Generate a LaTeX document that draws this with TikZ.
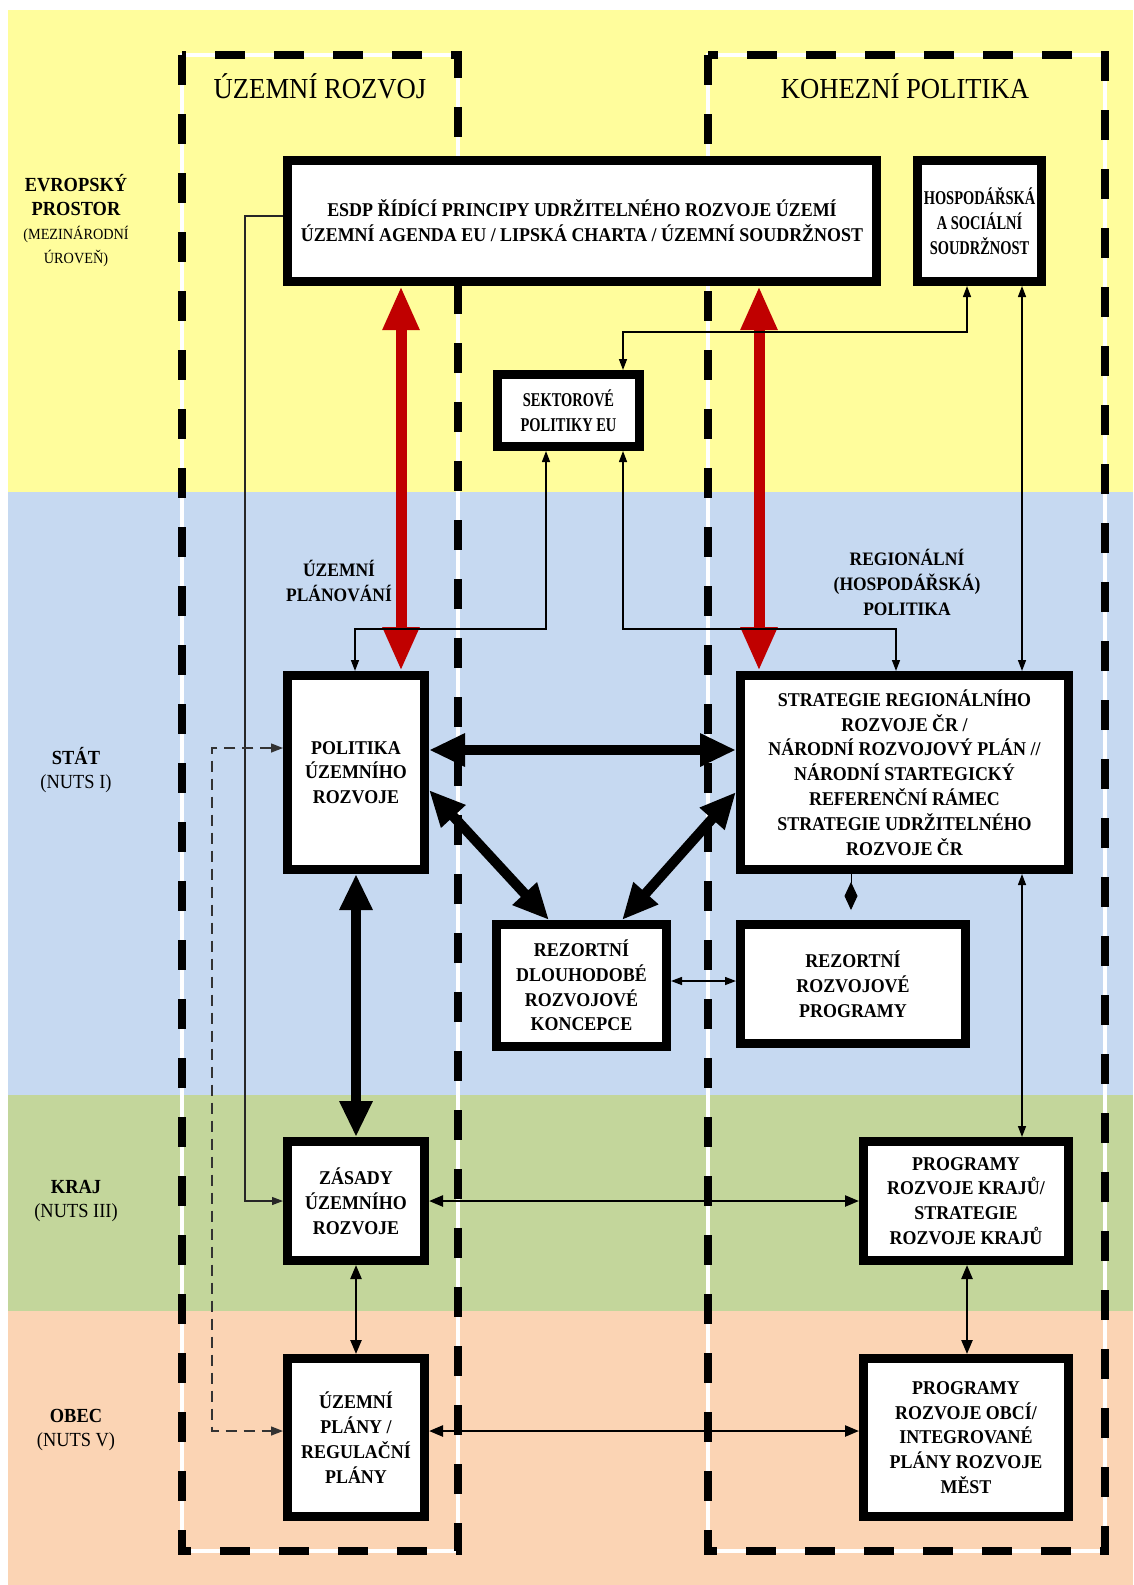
\documentclass[tikz,border=0pt]{standalone}
\usepackage{fontspec}
\setmainfont{Liberation Serif}[FakeStretch=0.92]
\newfontfamily\condfam{Liberation Serif}[FakeStretch=0.74]
\usetikzlibrary{arrows.meta,calc}
\definecolor{yellowbg}{HTML}{FFFD9C}
\definecolor{bluebg}{HTML}{C6D9F1}
\definecolor{greenbg}{HTML}{C3D69B}
\definecolor{peachbg}{HTML}{FBD4B4}
\definecolor{redarr}{HTML}{C00000}
\newcommand\bxfont{\fontsize{19.5}{24.8}\selectfont\bfseries}
\newcommand\cbxfont{\condfam\fontsize{19.5}{24.8}\selectfont\bfseries}
\newcommand\ttlfont{\fontsize{29}{32}\selectfont}
\newcommand\lvlfont{\fontsize{20}{24}\selectfont\bfseries}
\newcommand\lvlsmall{\fontsize{15.5}{24}\selectfont}
\begin{document}
\begin{tikzpicture}[x=1pt,y=-1pt,
  box/.style={draw=black, line width=9pt, fill=white, inner sep=0pt, outer sep=4.5pt, align=center, font=\bxfont},
  lbl/.style={align=center, inner sep=0pt, font=\lvlfont},
  frameW/.style={draw=white, line width=4pt},
  frameB/.style={draw=black, line width=8pt, dash pattern=on 30pt off 29pt},
  redarrow/.style={draw=redarr, line width=11pt, {Triangle[length=44pt,width=34pt]}-{Triangle[length=44pt,width=34pt]}},
  thickarrow/.style={draw=black, line width=10pt, {Triangle[length=36pt,width=31pt]}-{Triangle[length=36pt,width=31pt]}},
  thinarrow/.style={draw=black, line width=1.4pt, {Triangle[length=11pt,width=8pt]}-{Triangle[length=11pt,width=8pt]}},
  midarrow/.style={draw=black, line width=2.4pt, {Triangle[length=14pt,width=11pt]}-{Triangle[length=14pt,width=11pt]}},
  oneway/.style={draw=black!85, line width=1.2pt, -{Triangle[length=11pt,width=8pt]}},
  dasharrow/.style={draw=black!80, line width=1.4pt, dash pattern=on 11pt off 7pt, {Triangle[length=12pt,width=9pt]}-{Triangle[length=12pt,width=9pt]}},
  diamarrow/.style={draw=black, line width=1pt, -{Diamond[length=28pt,width=13pt]}}
]
\useasboundingbox (0,0) rectangle (1133,1585);
% background bands
\fill[white] (0,0) rectangle (1133,1585);
\fill[yellowbg] (8,10) rectangle (1133,492);
\fill[bluebg] (8,492) rectangle (1133,1095);
\fill[greenbg] (8,1095) rectangle (1133,1311);
\fill[peachbg] (8,1311) rectangle (1133,1585);
% dashed frames
\draw[frameW] (182,55) rectangle (458,1551);
\draw[frameB] (182,55) rectangle (458,1551);
\draw[frameW] (708,55) rectangle (1105,1551);
\draw[frameB] (708,55) rectangle (1105,1551);
% titles
\node[inner sep=0pt, font=\ttlfont] (t1) at (320,86) {ÚZEMNÍ ROZVOJ};
\node[inner sep=0pt, font=\ttlfont] (t2) at (905,86) {KOHEZNÍ POLITIKA};
% level labels
\node[lbl] (l1) at (76,221) {EVROPSKÝ\\PROSTOR\\{\lvlsmall\mdseries (MEZINÁRODNÍ}\\{\lvlsmall\mdseries ÚROVEŇ)}};
\node[lbl] (l2) at (76,770) {STÁT\\{\mdseries (NUTS I)}};
\node[lbl] (l3) at (76,1201) {KRAJ\\{\mdseries (NUTS III)}};
\node[lbl] (l4) at (76,1430) {OBEC\\{\mdseries (NUTS V)}};
\node[lbl, font=\fontsize{19}{24.5}\selectfont\bfseries] (l5) at (339,581) {ÚZEMNÍ\\PLÁNOVÁNÍ};
\node[lbl, font=\fontsize{19}{25}\selectfont\bfseries] (l6) at (907,582) {REGIONÁLNÍ\\(HOSPODÁŘSKÁ)\\POLITIKA};
% boxes
\node[box, minimum width=589pt, minimum height=121pt] (esdp) at (582,221) {ESDP ŘÍDÍCÍ PRINCIPY UDRŽITELNÉHO ROZVOJE ÚZEMÍ\\ÚZEMNÍ AGENDA EU / LIPSKÁ CHARTA / ÚZEMNÍ SOUDRŽNOST};
\node[box, font=\cbxfont, minimum width=124pt, minimum height=121pt] (hosp) at (979.5,221) {HOSPODÁŘSKÁ\\A SOCIÁLNÍ\\SOUDRŽNOST};
\node[box, font=\cbxfont, minimum width=142pt, minimum height=72pt] (sekt) at (568.5,410.5) {SEKTOROVÉ\\POLITIKY EU};
\node[box, minimum width=137pt, minimum height=194pt] (pol) at (356,772.5) {POLITIKA\\ÚZEMNÍHO\\ROZVOJE};
\node[box, minimum width=328pt, minimum height=194pt] (strat) at (904.5,772.5) {STRATEGIE REGIONÁLNÍHO\\ROZVOJE ČR /\\NÁRODNÍ ROZVOJOVÝ PLÁN //\\NÁRODNÍ STARTEGICKÝ\\REFERENČNÍ RÁMEC\\STRATEGIE UDRŽITELNÉHO\\ROZVOJE ČR};
\node[box, minimum width=170pt, minimum height=122pt] (rezdl) at (581.5,985.5) {REZORTNÍ\\DLOUHODOBÉ\\ROZVOJOVÉ\\KONCEPCE};
\node[box, minimum width=225pt, minimum height=119pt] (rezpr) at (853,984) {REZORTNÍ\\ROZVOJOVÉ\\PROGRAMY};
\node[box, minimum width=137pt, minimum height=119pt] (zas) at (356,1201) {ZÁSADY\\ÚZEMNÍHO\\ROZVOJE};
\node[box, minimum width=205pt, minimum height=119pt] (prk) at (966,1201) {PROGRAMY\\ROZVOJE KRAJŮ/\\STRATEGIE\\ROZVOJE KRAJŮ};
\node[box, minimum width=137pt, minimum height=158pt] (up) at (356,1437.5) {ÚZEMNÍ\\PLÁNY /\\REGULAČNÍ\\PLÁNY};
\node[box, minimum width=205pt, minimum height=158pt] (pro) at (966,1437.5) {PROGRAMY\\ROZVOJE OBCÍ/\\INTEGROVANÉ\\PLÁNY ROZVOJE\\MĚST};
% helper coordinates
\coordinate (xL) at (401,0);
\coordinate (xR) at (759,0);
\coordinate (ea) at (245,216);
\coordinate (eb) at (245,1201);
\coordinate (da) at (212,748);
\coordinate (db) at (212,1431);
\coordinate (ha) at (967,332);
\coordinate (hb) at (623,332);
\coordinate (sa) at (546,629);
\coordinate (sb) at (355,629);
\coordinate (sc) at (623,629);
\coordinate (sd) at (896,629);
\coordinate (xH) at (1022,0);
\coordinate (yM) at (0,750);
\coordinate (yD1) at (0,790);
\coordinate (yD2) at (0,792);
\coordinate (xD1) at (549,0);
\coordinate (xD2) at (622,0);
\coordinate (xDm) at (851,0);
\coordinate (dmEnd) at (851,910);
\coordinate (yRz) at (0,981);
\coordinate (xK) at (967,0);
\coordinate (yK) at (0,1201);
\coordinate (yO) at (0,1431);
% red arrows
\draw[redarrow] (esdp.south -| xL) -- (pol.north -| xL);
\draw[redarrow] (esdp.south -| xR) -- (strat.north -| xR);
% thin connectors
\draw[oneway] (esdp.west |- ea) -- (ea) -- (eb) -- (zas.west |- eb);
\draw[dasharrow] (pol.west |- da) -- (da) -- (db) -- (up.west |- db);
\draw[thinarrow] (hosp.south -| ha) -- (ha) -- (hb) -- (sekt.north -| hb);
\draw[thinarrow] (sekt.south -| sa) -- (sa) -- (sb) -- (pol.north -| sb);
\draw[thinarrow] (sekt.south -| sc) -- (sc) -- (sd) -- (strat.north -| sd);
\draw[thinarrow] (hosp.south -| xH) -- (strat.north -| xH);
\draw[thinarrow] (strat.south -| xH) -- (prk.north -| xH);
% thick black arrows
\draw[thickarrow] (pol.east |- yM) -- (strat.west |- yM);
\draw[thickarrow] (pol.east |- yD1) -- (rezdl.north -| xD1);
\draw[thickarrow] (strat.west |- yD2) -- (rezdl.north -| xD2);
\draw[thickarrow] (pol.south) -- (zas.north);
% diamond
\draw[diamarrow] (strat.south -| xDm) -- (dmEnd);
% others
\draw[thinarrow] (rezdl.east |- yRz) -- (rezpr.west |- yRz);
\draw[midarrow] (zas.east |- yK) -- (prk.west |- yK);
\draw[midarrow] (zas.south) -- (up.north);
\draw[midarrow] (prk.south -| xK) -- (pro.north -| xK);
\draw[midarrow] (up.east |- yO) -- (pro.west |- yO);
\end{tikzpicture}
\end{document}
